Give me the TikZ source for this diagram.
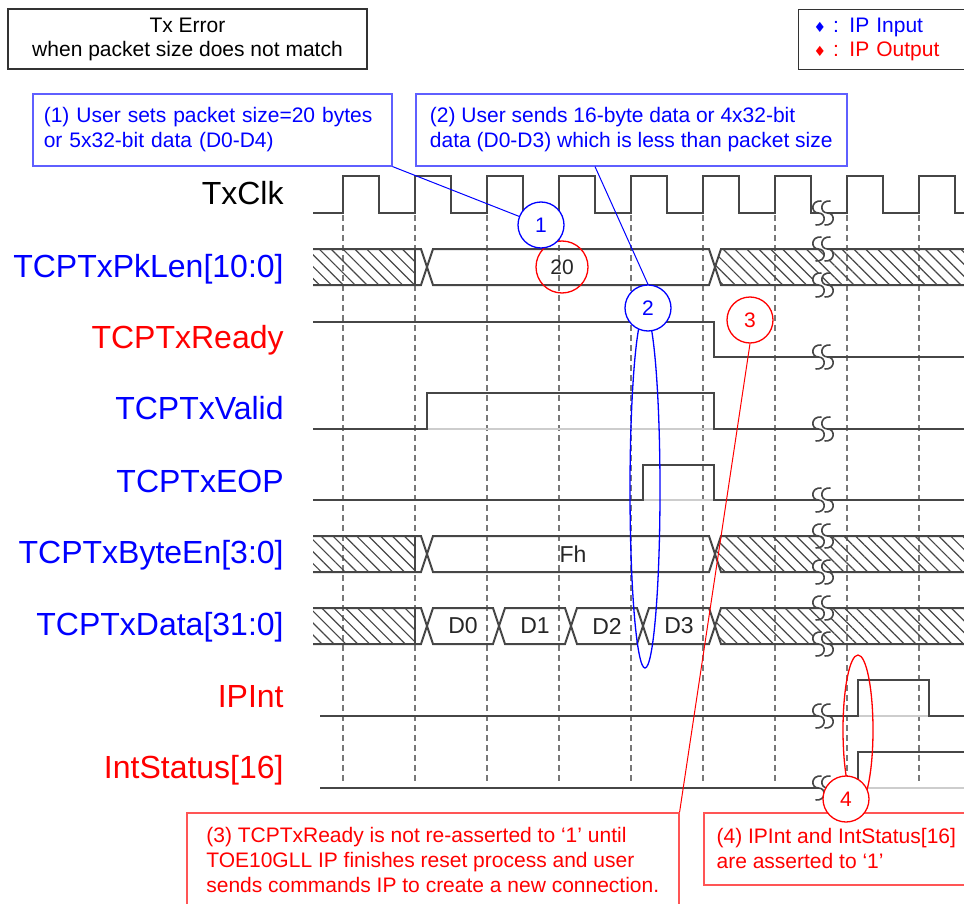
\documentclass[tikz,border=0pt]{standalone}
\usepackage{fontspec}
\setmainfont{Liberation Sans}
\newfontfamily\symbfont{DejaVu Sans}
\usetikzlibrary{positioning,shapes.geometric,patterns.meta}
\definecolor{wavegray}{RGB}{70,70,70}
\definecolor{lowgray}{RGB}{205,205,205}
\definecolor{guidegray}{RGB}{120,120,120}
\definecolor{noteblue}{RGB}{95,95,255}
\definecolor{notered}{RGB}{255,85,85}
\tikzset{
  wave/.style={draw=wavegray, line width=1pt},
  lowlevel/.style={draw=lowgray, line width=1pt},
  edgeguide/.style={draw=guidegray, line width=0.8pt, dash pattern=on 3pt off 2pt},
  voidfill/.style={pattern={Lines[angle=-45,distance=4.2pt,line width=0.6pt]}, pattern color=wavegray},
  signame/.style={anchor=base east, inner sep=0pt, font=\fontsize{16}{18}\selectfont},
  busval/.style={inner sep=0pt, text=black!85, font=\fontsize{11.5}{13}\selectfont},
  headbox/.style={
    rectangle,
    draw=black!80,
    line width=0.6pt,
    align=center,
    minimum width=179.5pt,
    minimum height=30pt,
    font=\fontsize{10.5}{12}\selectfont
  },
  legendbox/.style={
    rectangle,
    anchor=north west,
    draw=black!80,
    line width=0.6pt,
    align=left,
    text width=70pt,
    inner xsep=7.5pt,
    minimum height=30pt,
    font=\fontsize{10.5}{12}\selectfont
  },
  notebox/.style={
    rectangle,
    anchor=north west,
    line width=0.8pt,
    align=left,
    inner xsep=5.5pt,
    minimum height=36pt,
    font=\fontsize{10.5}{12.5}\selectfont
  },
  bluenote/.style={notebox, draw=noteblue, text=blue},
  rednote/.style={notebox, draw=notered, text=red},
  bluering/.style={
    circle,
    draw=blue,
    fill=white,
    line width=0.65pt,
    minimum size=23pt,
    inner sep=0pt,
    text=blue,
    font=\fontsize{10.5}{12}\selectfont
  },
  redring/.style={bluering, draw=red, text=red},
  lenring/.style={circle, draw=red, line width=0.65pt, minimum size=26pt, inner sep=0pt,
    text=black!85, font=\fontsize{10.5}{12}\selectfont},
  loop/.style={ellipse, line width=0.65pt, minimum width=15pt, inner sep=0pt},
  pointer/.style={line width=0.5pt}
}
\newcommand{\voidhead}[2]{%
  \path[voidfill] (313,#1) -- (#2-12,#1) -- (#2-12,#1+36) -- (313,#1+36) -- cycle;
  \draw[wave] (313,#1) -- (#2-6,#1) -- (#2,#1+18) -- (#2-6,#1+36) -- (313,#1+36);
  \draw[wave] (#2-12,#1) -- (#2-12,#1+36);}
\newcommand{\voidtail}[2]{%
  \path[voidfill] (#2,#1+18) -- (#2+6,#1) -- (964,#1) -- (964,#1+36) -- (#2+6,#1+36) -- cycle;
  \draw[wave] (964,#1) -- (#2+6,#1) -- (#2,#1+18) -- (#2+6,#1+36) -- (964,#1+36);}
\newcommand{\busseg}[3]{%
  \draw[wave] (#2,#1+18) -- (#2+6,#1) -- (#3-6,#1) -- (#3,#1+18) -- (#3-6,#1+36) -- (#2+6,#1+36) -- cycle;}
\newcommand{\gapmark}[2]{%
  \fill[white] (#1-1.5,#2-12) .. controls (#1-12.5,#2-13) and (#1-12.5,#2) .. (#1-4.5,#2)
    .. controls (#1+3.5,#2) and (#1+3.5,#2+13) .. (#1-7.5,#2+12)
    -- (#1+1.5,#2+12) .. controls (#1+12.5,#2+13) and (#1+12.5,#2) .. (#1+4.5,#2)
    .. controls (#1-3.5,#2) and (#1-3.5,#2-13) .. (#1+7.5,#2-12) -- cycle;
  \draw[wave, line width=0.8pt] (#1-1.5,#2-12) .. controls (#1-12.5,#2-13) and (#1-12.5,#2) .. (#1-4.5,#2)
    .. controls (#1+3.5,#2) and (#1+3.5,#2+13) .. (#1-7.5,#2+12);
  \draw[wave, line width=0.8pt] (#1+7.5,#2-12) .. controls (#1-3.5,#2-13) and (#1-3.5,#2) .. (#1+4.5,#2)
    .. controls (#1+12.5,#2) and (#1+12.5,#2+13) .. (#1+1.5,#2+12);}

\begin{document}
\begin{tikzpicture}[x=0.5pt,y=-0.5pt]
  \useasboundingbox (0,0) rectangle (964,904);
  \foreach \e in {343,415,...,919}
    \draw[edgeguide] (\e,215) -- (\e,784);
  \foreach \lvl in {429,500} \draw[lowlevel] (313,\lvl) -- (964,\lvl);
  \foreach \lvl in {716,788} \draw[lowlevel] (320,\lvl) -- (964,\lvl);
  \draw[wave] (313,213) \foreach \e in {343,415,...,919} {-- (\e,213) -- (\e,176) -- (\e+36,176) -- (\e+36,213)} -- (964,213);
  \draw[wave] (313,322) -- (714,322) -- (714,357) -- (964,357);
  \draw[wave] (313,429) -- (427,429) -- (427,393) -- (714,393) -- (714,429) -- (964,429);
  \draw[wave] (313,500) -- (643,500) -- (643,465) -- (714,465) -- (714,500) -- (964,500);
  \draw[wave] (320,716) -- (858,716) -- (858,680) -- (929,680) -- (929,716) -- (964,716);
  \draw[wave] (320,788) -- (858,788) -- (858,752) -- (964,752);
  \voidhead{249}{427} \busseg{249}{427}{715} \voidtail{249}{715}
  \voidhead{536}{427} \busseg{536}{427}{715} \voidtail{536}{715}
  \voidhead{608}{427}
  \foreach \a/\b in {427/499,499/571,571/643,643/715} {\busseg{608}{\a}{\b}}
  \voidtail{608}{715}
  \foreach \y in {213,249,285,357,429,500,536,572,608,644,716,788} {\gapmark{823}{\y}}

  \node[signame] (lblclk) at (284,205) {TxClk};
  \node[signame, text=blue] (lbllen) at (284,277) {TCPTxPkLen[10:0]};
  \node[signame, text=red] (lblrdy) at (284,348) {TCPTxReady};
  \node[signame, text=blue] (lblvld) at (284,419) {TCPTxValid};
  \node[signame, text=blue] (lbleop) at (284,492) {TCPTxEOP};
  \node[signame, text=blue] (lblben) at (284,563) {TCPTxByteEn[3:0]};
  \node[signame, text=blue] (lbldat) at (284,635) {TCPTxData[31:0]};
  \node[signame, text=red] (lblint) at (284,707) {IPInt};
  \node[signame, text=red] (lblsts) at (284,778) {IntStatus[16]};

  \node[busval] (valfh) at (573,554) {Fh};
  \node[busval] (vald0) at (463,626) {D0};
  \node[busval] (vald1) at (535,626) {D1};
  \node[busval] (vald2) at (607,626) {D2};
  \node[busval] (vald3) at (679,626) {D3};
  \node[lenring] (lenmark) at (562,267) {20};
  \node[loop, draw=blue, minimum height=178pt] (txloop) at (645,490) {};
  \node[loop, draw=red, minimum height=75pt] (intloop) at (858,730) {};

  \node[headbox] (title) at (187.5,39) {Tx Error\\when packet size does not match};
  \node[legendbox] (legend) at (798,9)
    {\textcolor{blue}{{\symbfont\fontsize{7}{8}\selectfont ♦} : IP Input}\\
     \textcolor{red}{{\symbfont\fontsize{7}{8}\selectfont ♦} : IP Output}};
  \node[bluenote, text width=168.5pt] (note1) at (32,93)
    {(1) User sets packet size=20 bytes\\or 5x32-bit data (D0-D4)};
  \node[bluenote, minimum width=215.5pt] (note2) at (415,93)
    {(2) User sends 16-byte data or 4x32-bit\\data (D0-D3) which is less than packet size};
  \node[rednote, minimum width=246pt, minimum height=47pt] (note3) at (186,812)
    {(3) TCPTxReady is not re-asserted to ‘1’ until\\TOE10GLL IP finishes reset process and user\\sends commands IP to create a new connection.};
  \node[rednote, minimum width=132.5pt] (note4) at (703,812)
    {(4) IPInt and IntStatus[16]\\are asserted to ‘1’};

  \node[bluering] (ring1) at (541,225) {1};
  \node[bluering] (ring2) at (648,308) {2};
  \node[redring] (ring3) at (750,320) {3};
  \node[redring] (ring4) at (846,799) {4};

  \coordinate (tap2) at ([xshift=90pt]note2.south west);
  \draw[pointer, blue] (note1.south east) -- (ring1);
  \draw[pointer, blue] (tap2) -- (ring2.north);
  \draw[pointer, red] (ring3.south) -- (note3.north east);
\end{tikzpicture}
\end{document}
